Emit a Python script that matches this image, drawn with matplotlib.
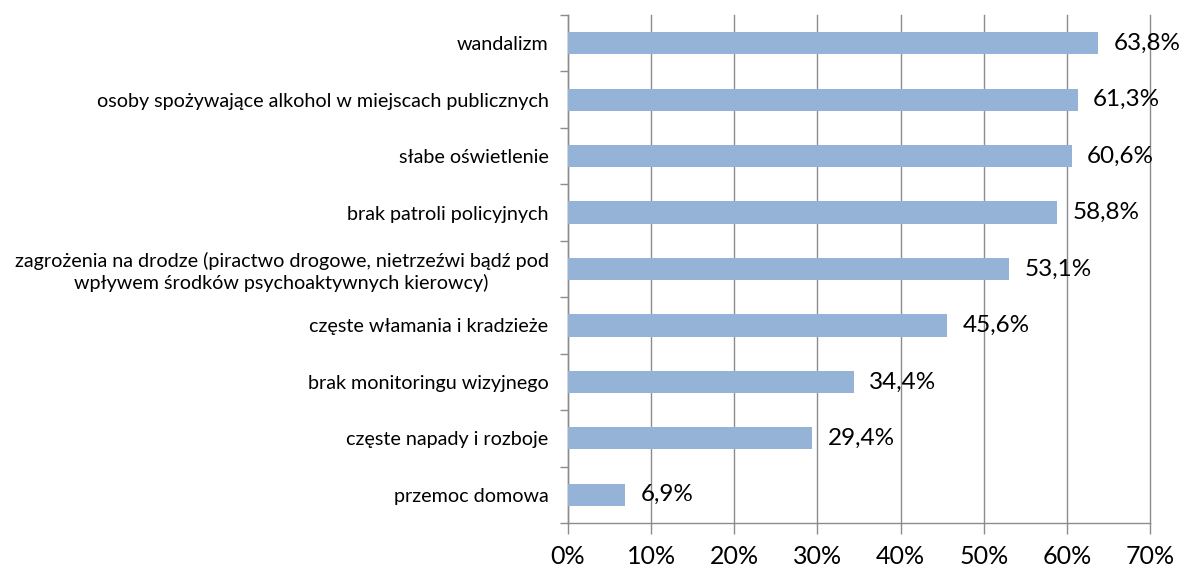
import matplotlib
matplotlib.use("Agg")
import matplotlib.pyplot as plt
from matplotlib.ticker import FixedLocator

categories = [
    "wandalizm",
    "osoby spożywające alkohol w miejscach publicznych",
    "słabe oświetlenie",
    "brak patroli policyjnych",
    "zagrożenia na drodze (piractwo drogowe, nietrzeźwi bądź pod\nwpływem środków psychoaktywnych kierowcy)",
    "częste włamania i kradzieże",
    "brak monitoringu wizyjnego",
    "częste napady i rozboje",
    "przemoc domowa",
]
values = [63.8, 61.3, 60.6, 58.8, 53.1, 45.6, 34.4, 29.4, 6.9]
value_labels = ["63,8%", "61,3%", "60,6%", "58,8%", "53,1%", "45,6%", "34,4%", "29,4%", "6,9%"]
x_ticks = [0, 10, 20, 30, 40, 50, 60, 70]
x_tick_labels = [f"{t}%" for t in x_ticks]

plt.rcParams['font.family'] = ['Lato', 'DejaVu Sans']

fig = plt.figure(figsize=(11.83, 5.67), dpi=100)
ax = fig.add_axes([568/1183, 1-523/567, (1150-568)/1183, (523-15)/567])

n = len(categories)
ypos = list(range(n))
bars = ax.barh(ypos, values, height=0.395, color="#95B3D7", zorder=3)
ax.set_ylim(n - 0.5, -0.5)
ax.set_xlim(0, 70)

ax.bar_label(bars, labels=value_labels, padding=11, fontsize=17.5, color="#000000")

ax.set_xticks(x_ticks)
ax.set_xticklabels(x_tick_labels, fontsize=18)
ax.xaxis.grid(True, color="#8c8c8c", linewidth=1.0, zorder=0)
for gl in ax.get_xgridlines():
    gl.set_clip_on(False)

ax.set_yticks(ypos)
ax.set_yticklabels(categories, fontsize=14.2, multialignment="center", linespacing=1.25)
ax.yaxis.set_minor_locator(FixedLocator([i - 0.5 for i in range(n + 1)]))
ax.tick_params(axis="y", which="major", length=0, pad=14)
ax.tick_params(axis="y", which="minor", length=6, width=1, color="#8c8c8c")
ax.tick_params(axis="x", which="major", length=8, width=1, color="#8c8c8c", pad=8)

for s in ["top", "right"]:
    ax.spines[s].set_visible(False)
for s in ["left", "bottom"]:
    ax.spines[s].set_color("#8c8c8c")
    ax.spines[s].set_linewidth(1.0)

fig.savefig("out.png", dpi=100, facecolor="white")
